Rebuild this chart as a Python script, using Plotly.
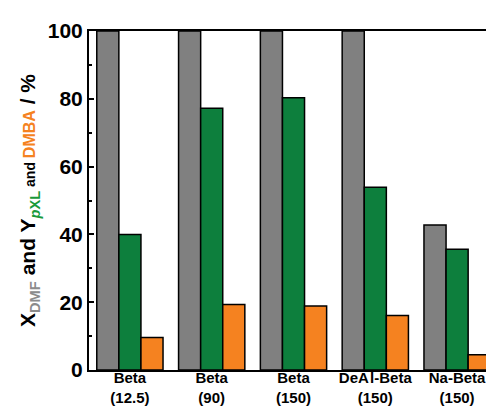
import plotly.graph_objects as go

categories = ["Beta<br>(12.5)", "Beta<br>(90)", "Beta<br>(150)", "DeA\u200al-Beta<br>(150)", "Na-Beta<br>(150)"]
x_dmf = [100, 100, 100, 100, 42.8]
y_pxl = [40.0, 77.2, 80.3, 53.9, 35.6]
y_dmba = [9.6, 19.3, 18.9, 16.1, 4.5]

colors = {"dmf": "#808080", "pxl": "#0d7f3d", "dmba": "#f58220"}

fig = go.Figure()
for name, vals, key in [("X DMF", x_dmf, "dmf"), ("Y pXL", y_pxl, "pxl"), ("Y DMBA", y_dmba, "dmba")]:
    fig.add_trace(go.Bar(x=categories, y=vals, name=name,
                         marker=dict(color=colors[key], line=dict(color="black", width=1.5))))

title = ("X<sub><span style='color:#8c8c8c'>DMF</span></sub> and Y"
         "<sub><span style='color:#1a9a3a'><i>p</i>XL</span></sub>"
         "<span style='font-size:14px'> and </span>"
         "<span style='color:#f58220;font-size:16px'>DMBA</span> / %")

fig.update_layout(
    width=494, height=406,
    margin=dict(l=81, r=2, t=23, b=44),
    paper_bgcolor="white", plot_bgcolor="white",
    barmode="group", bargap=0.19, bargroupgap=0,
    showlegend=False,
    font=dict(family="Arial, Liberation Sans, sans-serif", color="black"),
    xaxis=dict(showline=True, linecolor="black", linewidth=2, mirror=True,
               ticks="", tickfont=dict(size=15, weight="bold"), range=[-0.5, 4.5],
               ticklabelstandoff=-7),
    yaxis=dict(range=[0, 100], tickvals=[0, 20, 40, 60, 80, 100],
               showline=True, linecolor="black", linewidth=2, mirror="allticks",
               ticks="inside", ticklen=5, tickwidth=2, tickcolor="black",
               minor=dict(ticks="inside", ticklen=3, tickwidth=2, tickcolor="black", dtick=10),
               showgrid=False, zeroline=False,
               tickfont=dict(size=21, weight="bold"), ticklabelstandoff=0,
               title=dict(text=title, font=dict(size=21, weight="bold"), standoff=6)),
)

fig.write_html("out.html")
